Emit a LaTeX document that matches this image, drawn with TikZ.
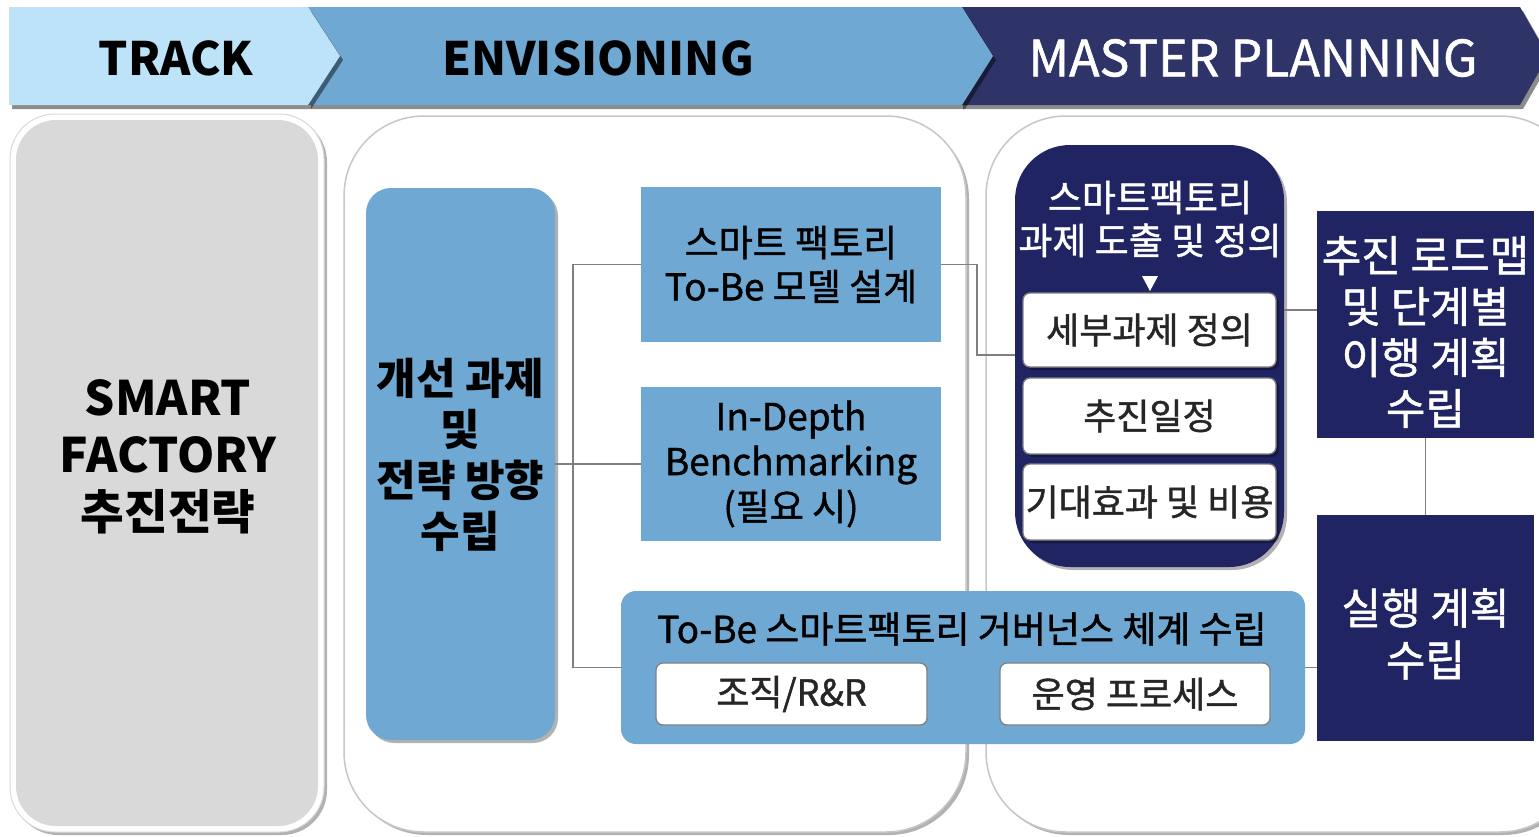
\documentclass[tikz,border=0pt]{standalone}
\usepackage{fontspec}
\setmainfont{Noto Sans CJK KR}
\newfontfamily\krm{Noto Sans CJK KR}[FakeBold=1.2]
\usetikzlibrary{shadows}
\definecolor{lblue}{RGB}{189,227,249}
\definecolor{mblue}{RGB}{111,168,210}
\definecolor{hnavy}{RGB}{46,52,104}
\definecolor{bnavy}{RGB}{32,36,98}
\definecolor{pgray}{RGB}{217,217,217}
\definecolor{lgray}{RGB}{127,127,127}
\tikzset{
  hshadow/.style={drop shadow={shadow xshift=3pt,shadow yshift=-4pt,opacity=0.45,fill=black}},
  softshadow/.style={drop shadow={shadow xshift=3pt,shadow yshift=-3pt,opacity=0.3,fill=black}},
  panel/.style={fill=white,draw=black!22,line width=1.5pt,softshadow},
  sblue/.style={fill=mblue,inner sep=0pt,text=black,align=center},
  wbox/.style={fill=white,draw=lgray,line width=1.3pt,rounded corners=7pt,inner sep=0pt,align=center,
    font=\krm\fontsize{36}{42}\selectfont,text=black!85},
  nbox/.style={fill=bnavy,text=white,inner sep=0pt,align=center},
  htext/.style={inner sep=0pt,font=\bfseries\fontsize{46}{56}\selectfont},
  conn/.style={draw=lgray,line width=1.8pt}
}
\begin{document}
\begin{tikzpicture}[x=1pt,y=-1pt]
\useasboundingbox (0,0) rectangle (1539,836);
\fill[white] (0,0) rectangle (1539,836);

% header chevrons
\fill[hnavy,hshadow] (960,7) -- (1520,7) -- (1548,56) -- (1520,105) -- (960,105) -- cycle;
\fill[mblue,hshadow] (308,7) -- (962,7) -- (993,56) -- (962,105) -- (308,105) -- cycle;
\fill[lblue,hshadow] (9,7) -- (308,7) -- (340,56) -- (308,105) -- (9,105) -- cycle;
\node[htext] (hTrack) at (176,58) {TRACK};
\node[htext] (hEnv) at (598,58) {ENVISIONING};
\node[htext,text=white,font=\krm\fontsize{50}{60}\selectfont] (hMaster) at (1253,58) {MASTER PLANNING};

% panels
\fill[white,softshadow,draw=black!15,line width=1pt,rounded corners=45pt] (10,114) rectangle (324,832);
\fill[pgray,rounded corners=40pt] (16,120) rectangle (318,826);
\node[align=center,inner sep=0pt,font=\bfseries\fontsize{47.5}{57}\selectfont] (sf) at (168,457) {SMART\\FACTORY\\추진전략};

\path[panel,rounded corners=80pt] (344,116) rectangle (966,832);
\path[panel,rounded corners=80pt] (986,116) rectangle (1580,832);

% envisioning content
\node[sblue,rounded corners=25pt,softshadow,minimum width=189pt,minimum height=552pt] (strat) at (460.5,464) {};
\node[inner sep=0pt,align=center,font=\bfseries\fontsize{43}{51}\selectfont] (stratt) at (460.5,455) {개선 과제\\및\\전략 방향\\수립};
\node[sblue,minimum width=300pt,minimum height=155pt,font=\krm\fontsize{37}{44}\selectfont] (tobe) at (791,264.5) {스마트 팩토리\\To-Be 모델 설계};
\node[sblue,minimum width=300pt,minimum height=154pt,font=\krm\fontsize{37}{45}\selectfont] (bench) at (791,464) {In-Depth\\Benchmarking\\(필요 시)};
\node[sblue,rounded corners=15pt,minimum width=684pt,minimum height=153pt] (gov) at (963,667.5) {};
\node[inner sep=0pt,font=\krm\fontsize{37}{42}\selectfont] (govt) at (962,629) {To-Be 스마트팩토리 거버넌스 체계 수립};
\node[wbox,minimum width=271pt,minimum height=62pt] (org) at (791.5,694) {조직/R\&R};
\node[wbox,minimum width=270pt,minimum height=62pt] (proc) at (1135,694) {운영 프로세스};

% master planning content
\node[nbox,rounded corners=55pt,softshadow,minimum width=269pt,minimum height=422pt] (navy) at (1149.5,356) {};
\node[inner sep=0pt,text=white,align=center,font=\krm\fontsize{37}{43}\selectfont] (navt) at (1150,219) {스마트팩토리\\과제 도출 및 정의};
\fill[white] (1142,276) -- (1158,276) -- (1150,291) -- cycle;
\node[wbox,softshadow,minimum width=253pt,minimum height=74pt] (s1) at (1149.5,330) {세부과제 정의};
\node[wbox,softshadow,minimum width=253pt,minimum height=76pt] (s2) at (1149.5,416) {추진일정};
\node[wbox,softshadow,minimum width=253pt,minimum height=76pt] (s3) at (1149.5,502) {기대효과 및 비용};
\node[nbox,minimum width=217pt,minimum height=227pt] (road) at (1425.5,324.5) {};
\node[inner sep=0pt,text=white,align=center,font=\krm\fontsize{43}{51}\selectfont] (roadt) at (1425.5,332) {추진 로드맵\\및 단계별\\이행 계획\\수립};
\node[nbox,minimum width=217pt,minimum height=226pt] (exec) at (1425.5,628) {};
\node[inner sep=0pt,text=white,align=center,font=\krm\fontsize{43}{52}\selectfont] (exect) at (1425.5,634) {실행 계획\\수립};

% connectors
\coordinate (j1) at (573,0);
\coordinate (j2) at (977,0);
\coordinate (j3) at (1015,355);
\coordinate (j4) at (0,310);
\draw[conn] (strat.east) -- (bench.west);
\draw[conn] (tobe.west) -- (tobe.west -| j1) |- (gov.west);
\draw[conn] (tobe.east) -- (tobe.east -| j2) |- (j3);
\draw[conn] (navy.east |- j4) -- (road.west |- j4);
\draw[conn] (road.south) -- (exec.north);
\draw[conn] (gov.east) -- (exec.west |- gov.east);
\end{tikzpicture}
\end{document}
